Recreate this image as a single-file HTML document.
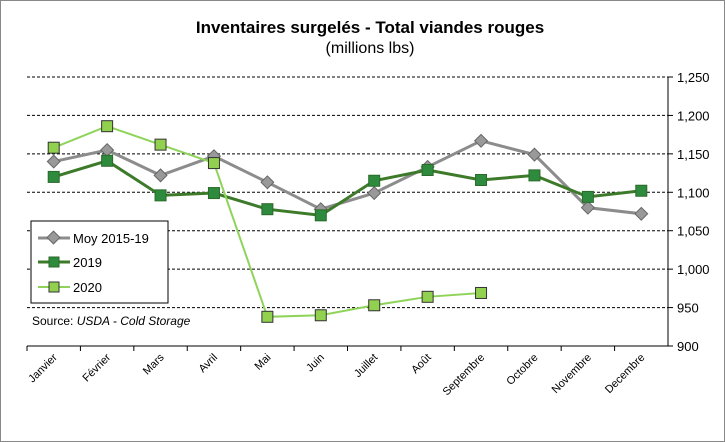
<!DOCTYPE html>
<html><head><meta charset="utf-8"><style>
body{margin:0;background:#fff;}
svg{display:block;font-family:"Liberation Sans",sans-serif;}
</style></head><body>
<svg id="chart" width="725" height="442">
<rect x="0.5" y="0.5" width="724" height="441" fill="#fff" stroke="#888"/>
<text x="370" y="33" text-anchor="middle" font-size="17" font-weight="bold">Inventaires surgelés - Total viandes rouges</text>
<text x="370" y="53" text-anchor="middle" font-size="16">(millions lbs)</text>
<g id="grid"></g><g id="axes"></g><g id="series"></g>
<g>
<rect x="31" y="221" width="137" height="82" fill="#fff" stroke="#000"/>
<g><line x1="38" y1="238" x2="70" y2="238" stroke="#8c8c8c" stroke-width="3"/><rect x="49" y="233" width="9" height="9" fill="#999" stroke="#666" transform="rotate(45 53.5 237.5)"/><text x="73" y="243" font-size="13">Moy 2015-19</text></g>
<g><line x1="38" y1="262" x2="70" y2="262" stroke="#3d7a2a" stroke-width="3"/><rect x="49" y="257" width="10" height="10" fill="#2e8b3d" stroke="#2a6a2a"/><text x="73" y="267" font-size="13">2019</text></g>
<g><line x1="38" y1="287" x2="70" y2="287" stroke="#8fd45a" stroke-width="2"/><rect x="49" y="282" width="10" height="10" fill="#92d050" stroke="#333"/><text x="73" y="292" font-size="13">2020</text></g>
</g>
<text x="32" y="325" font-size="12">Source: <tspan font-style="italic">USDA - Cold Storage</tspan></text>
</svg>
<script>
const categories=["Janvier","Février","Mars","Avril","Mai","Juin","Juillet","Août","Septembre","Octobre","Novembre","Decembre"];
const moy=[1140,1155,1122,1147,1113,1078,1099,1133,1167,1149,1080,1072];
const y2019=[1120,1141,1096,1099,1078,1070,1115,1129,1116,1122,1094,1102];
const y2020=[1158,1186,1162,1138,938,940,953,964,969];
const ticks=[900,950,1000,1050,1100,1150,1200,1250];
const tickLabels=["900","950","1,000","1,050","1,100","1,150","1,200","1,250"];
const NS="http://www.w3.org/2000/svg";
const L=27,R=668,T=77,B=346,minV=900,maxV=1250;
const bw=(R-L)/categories.length;
const xs=i=>L+bw*(i+0.5);
const ys=v=>B-(v-minV)/(maxV-minV)*(B-T);
function mk(tag,attrs,parent){const e=document.createElementNS(NS,tag);for(const k in attrs)e.setAttribute(k,attrs[k]);parent.appendChild(e);return e;}
const grid=document.getElementById('grid'),axes=document.getElementById('axes'),ser=document.getElementById('series');
ticks.forEach((t,i)=>{
 if(t>minV){const g=mk('line',{x1:L,x2:R,y1:ys(t),y2:ys(t),stroke:'#000','stroke-dasharray':'3,2','stroke-width':1},grid);
 
 }
 const tk=mk('line',{x1:R,x2:R+5,y1:ys(t),y2:ys(t),stroke:'#000'},axes);
 
 
 const tx=mk('text',{x:R+9,y:ys(t)+5,'font-size':13},axes);tx.textContent=tickLabels[i];
 
 
});
const ya=mk('line',{x1:R,x2:R,y1:T,y2:B,stroke:'#000'},axes);


const xa=mk('line',{x1:L,x2:R,y1:B,y2:B,stroke:'#000'},axes);


categories.forEach((c,i)=>{
 const tk=mk('line',{x1:L+bw*i,x2:L+bw*i,y1:B,y2:B+5,stroke:'#000'},axes);
 
 
 const x=xs(i)+4,y=B+12;
 const tx=mk('text',{x:x,y:y,'font-size':11,'text-anchor':'end',transform:`rotate(-45 ${x} ${y})`},axes);tx.textContent=c;
 
 
});
function line(data,color,w,name){
 const p=mk('polyline',{points:data.map((v,i)=>xs(i)+','+ys(v)).join(' '),fill:'none',stroke:color,'stroke-width':w},ser);
 
 
}
line(moy,'#8c8c8c',3,'moy');
line(y2019,'#3d7a2a',3,'y2019');
line(y2020,'#8fd45a',2,'y2020');
moy.forEach((v,i)=>{const x=xs(i),y=ys(v);const m=mk('rect',{x:x-4.5,y:y-4.5,width:9,height:9,fill:'#999',stroke:'#666',transform:`rotate(45 ${x} ${y})`},ser);
 
 });
y2019.forEach((v,i)=>{const m=mk('rect',{x:xs(i)-5.5,y:ys(v)-5.5,width:11,height:11,fill:'#2e8b3d',stroke:'#2a6a2a'},ser);
 
 });
y2020.forEach((v,i)=>{const m=mk('rect',{x:xs(i)-5.5,y:ys(v)-5.5,width:11,height:11,fill:'#92d050',stroke:'#333'},ser);
 
 });
</script>
</body></html>
